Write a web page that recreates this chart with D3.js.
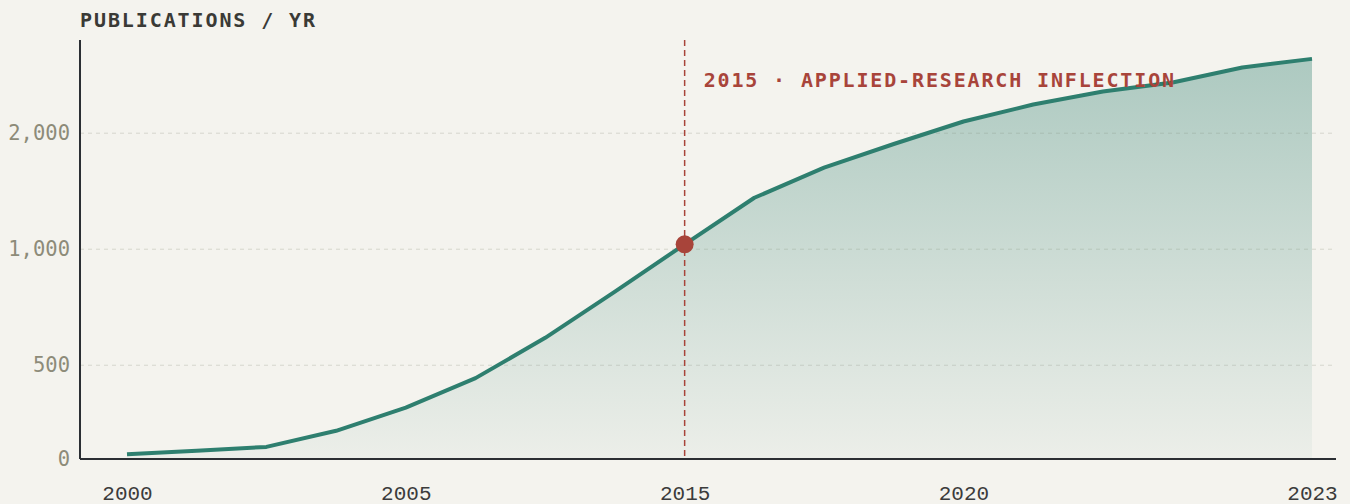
<!DOCTYPE html>
<html>
<head>
<meta charset="utf-8">
<script src="https://cdn.jsdelivr.net/npm/d3@7"></script>
<style>
  html, body { margin: 0; padding: 0; background: #f4f3ee; }
  svg { display: block; }
</style>
</head>
<body>
<svg width="1350" height="504"></svg>
<script>
// data
const periods = ['2000','2001','2002','2003','2005','2007','2009','2012','2015',
  '2016','2017','2018','2020','2021','2021.5','2022','2022.5','2023'];
const pubs = [294, 300, 307, 338, 388, 463, 589, 776, 1030,
  1360, 1628, 1875, 2145, 2374, 2566, 2708, 2962, 3118];
const xTickLabels = ['2000','2005','2015','2020','2023'];
const yTickValues = [0, 500, 1000, 2000];
const markYear = '2015';
const markText = '2015 · APPLIED-RESEARCH INFLECTION';

const svg = d3.select('svg');
const width = +svg.attr('width');
const height = +svg.attr('height');

const margin = { top: 40, right: 14, bottom: 45, left: 80 };
const innerRight = width - margin.right;
const innerBottom = height - margin.bottom;

const teal = '#2e7f6f';
const red = '#a8443a';
const mono = "'DejaVu Sans Mono', monospace";

const data = periods.map((p, i) => ({ p, v: pubs[i] }));

// point scale across the periods
const x = d3.scalePoint()
  .domain(periods)
  .range([margin.left + 47, innerRight - 24]);

// log scale, clamped so that 0 sits on the baseline
const y = d3.scaleLog()
  .domain([285.6, 3490])
  .range([innerBottom, margin.top])
  .clamp(true);

// gradient for the area
const defs = svg.append('defs');
const grad = defs.append('linearGradient')
  .attr('id', 'fade')
  .attr('x1', 0).attr('x2', 0).attr('y1', 0).attr('y2', 1);
grad.append('stop').attr('offset', '0%').attr('stop-color', teal).attr('stop-opacity', 0.36);
grad.append('stop').attr('offset', '100%').attr('stop-color', teal).attr('stop-opacity', 0.04);

// gridlines
svg.append('g')
  .selectAll('line')
  .data(yTickValues.filter(d => d > 0))
  .enter().append('line')
    .attr('x1', margin.left)
    .attr('x2', innerRight)
    .attr('y1', d => y(d))
    .attr('y2', d => y(d))
    .attr('stroke', '#e2e0d7')
    .attr('stroke-width', 1)
    .attr('stroke-dasharray', '4,4');

// area + line
const area = d3.area()
  .x(d => x(d.p))
  .y0(innerBottom)
  .y1(d => y(d.v));

const line = d3.line()
  .x(d => x(d.p))
  .y(d => y(d.v));

svg.append('path')
  .datum(data)
  .attr('d', area)
  .attr('fill', 'url(#fade)');

// gridlines show faintly through the fill
svg.append('g')
  .selectAll('line')
  .data(yTickValues.filter(d => d > 0))
  .enter().append('line')
    .attr('x1', margin.left)
    .attr('x2', innerRight)
    .attr('y1', d => y(d))
    .attr('y2', d => y(d))
    .attr('stroke', '#9aa79f')
    .attr('stroke-opacity', 0.15)
    .attr('stroke-dasharray', '4,4');

// annotation line
svg.append('line')
  .attr('x1', x(markYear))
  .attr('x2', x(markYear))
  .attr('y1', margin.top)
  .attr('y2', innerBottom)
  .attr('stroke', red)
  .attr('stroke-width', 1.5)
  .attr('stroke-dasharray', '6,4');

svg.append('path')
  .datum(data)
  .attr('d', line)
  .attr('fill', 'none')
  .attr('stroke', teal)
  .attr('stroke-width', 4)
  .attr('stroke-linejoin', 'round');

const marked = data.find(d => d.p === markYear);
svg.append('circle')
  .attr('cx', x(marked.p))
  .attr('cy', y(marked.v))
  .attr('r', 9)
  .attr('fill', red);

svg.append('text')
  .attr('x', x(markYear) + 19)
  .attr('y', 87)
  .attr('fill', red)
  .attr('font-family', mono)
  .attr('font-weight', 'bold')
  .attr('font-size', 20)
  .attr('letter-spacing', 1.85)
  .text(markText);

// axes
const yAxis = d3.axisLeft(y)
  .tickValues(yTickValues)
  .tickFormat(d3.format(','))
  .tickSize(0)
  .tickPadding(10);

const yG = svg.append('g')
  .attr('transform', `translate(${margin.left},0)`)
  .call(yAxis);
yG.select('.domain').remove();
yG.selectAll('text')
  .attr('fill', '#8d8b79')
  .attr('font-family', mono)
  .attr('font-size', 20.5);

const xAxis = d3.axisBottom(x)
  .tickValues(xTickLabels)
  .tickSize(0)
  .tickPadding(26);

const xG = svg.append('g')
  .attr('transform', `translate(0,${innerBottom})`)
  .call(xAxis);
xG.select('.domain').remove();
xG.selectAll('text')
  .attr('fill', '#3b3b3b')
  .attr('font-family', "'Liberation Mono', monospace")
  .attr('font-size', 21);

// axis lines
svg.append('line')
  .attr('x1', margin.left).attr('x2', margin.left)
  .attr('y1', margin.top).attr('y2', innerBottom)
  .attr('stroke', '#2b2e33').attr('stroke-width', 2);
svg.append('line')
  .attr('x1', margin.left).attr('x2', innerRight)
  .attr('y1', innerBottom).attr('y2', innerBottom)
  .attr('stroke', '#2b2e33').attr('stroke-width', 2);

// title
svg.append('text')
  .attr('x', margin.left)
  .attr('y', 27)
  .attr('fill', '#3a3a36')
  .attr('font-family', mono)
  .attr('font-weight', 'bold')
  .attr('font-size', 20)
  .attr('letter-spacing', 1.9)
  .text('PUBLICATIONS / YR');
</script>
</body>
</html>
